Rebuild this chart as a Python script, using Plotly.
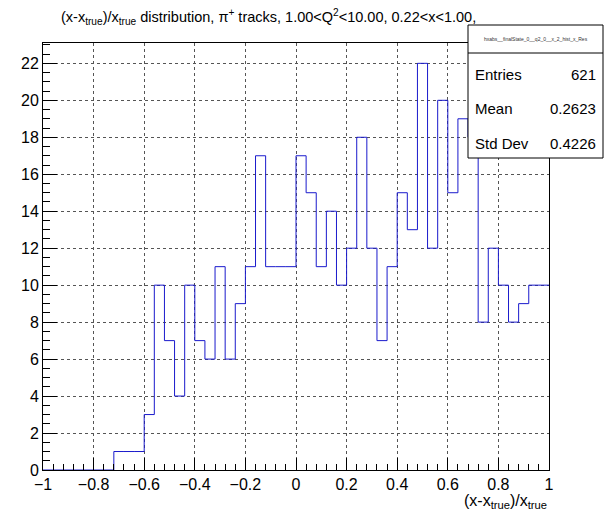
import plotly.graph_objects as go

bin_low_edges = [round(-1 + 0.04 * i, 2) for i in range(50)]
counts = [0, 0, 0, 0, 0, 0, 0, 1, 1, 1,
          3, 10, 7, 4, 10, 7, 6, 11, 6, 9,
          11, 17, 11, 11, 11, 17, 15, 11, 14, 10,
          12, 18, 12, 7, 11, 15, 13, 22, 12, 20,
          15, 19, 18, 8, 12, 10, 8, 9, 10, 10]
x_max = 1.0
stats_labels = ["Entries", "Mean", "Std Dev"]
stats_values = ["621", "0.2623", "0.4226"]
hist_name = "hxabs__finalState_0__q2_0__x_2_hist_x_Res"
title_text = ("(x-x<sub>true</sub>)/x<sub>true</sub> distribution, \u03c0<sup>+</sup> tracks, "
              "1.00&lt;Q<sup>2</sup>&lt;10.00, 0.22&lt;x&lt;1.00,")
xaxis_title = "(x-x<sub>true</sub>)/x<sub>true</sub>"

xs = bin_low_edges + [x_max]
ys = counts + [counts[-1]]

FONT = "Liberation Sans, Arial, Helvetica, sans-serif"

fig = go.Figure()
fig.add_trace(go.Scatter(x=xs, y=ys, mode="lines", line=dict(color="#1a1acc", width=1, shape="hv"),
                         showlegend=False, hoverinfo="skip"))

# page body has an 8px default margin; work in reference pixel coords and shift
OFF = 8
W, H = 615 - OFF, 524 - OFF
L, R, T, B = 43 - OFF, 549 - OFF, 43 - OFF, 470 - OFF

fig.update_layout(
    width=W, height=H,
    margin=dict(l=L, r=W - R, t=T, b=H - B, autoexpand=False),
    plot_bgcolor="white", paper_bgcolor="white",
    font=dict(family=FONT, color="black"),
    showlegend=False,
)
fig.update_xaxes(
    range=[-1, 1], dtick=0.2, tick0=-1, ticks="inside", ticklen=12, tickwidth=1, tickcolor="black",
    showline=True, linecolor="black", linewidth=1, mirror=True,
    showgrid=True, gridcolor="#555555", griddash="dot", gridwidth=1, zeroline=False,
    tickfont=dict(size=16), tickformat="~g",
    minor=dict(dtick=0.04, tick0=-1, ticks="inside", ticklen=6, tickcolor="black", showgrid=False),
)
fig.update_yaxes(
    range=[0, 23.1], dtick=2, tick0=0, ticks="inside", ticklen=14, tickwidth=1, tickcolor="black",
    showline=True, linecolor="black", linewidth=1, mirror=True,
    showgrid=True, gridcolor="#555555", griddash="dot", gridwidth=1, zeroline=False,
    tickfont=dict(size=16),
    minor=dict(dtick=0.5, tick0=0, ticks="inside", ticklen=7, tickcolor="black", showgrid=False),
)

def px_x(p):
    return (p - OFF - L) / (R - L)

def px_y(p):
    return (B - (p - OFF)) / (B - T)

# title
fig.add_annotation(text=title_text, xref="paper", yref="paper", x=px_x(59), y=px_y(17),
                   xanchor="left", yanchor="middle", showarrow=False, font=dict(size=14.5))
# x-axis title
fig.add_annotation(text=xaxis_title, xref="paper", yref="paper", x=1.0, y=px_y(501),
                   xanchor="right", yanchor="middle", showarrow=False, font=dict(size=16))

# stats box
bx0, bx1, by0, by1, bdiv = 468, 603, 25, 158, 53
fig.add_shape(type="rect", xref="paper", yref="paper", x0=px_x(bx0), x1=px_x(bx1), y0=px_y(by1), y1=px_y(by0),
              line=dict(color="black", width=1), fillcolor="white", layer="above")
fig.add_shape(type="line", xref="paper", yref="paper", x0=px_x(bx0), x1=px_x(bx1), y0=px_y(bdiv), y1=px_y(bdiv),
              line=dict(color="black", width=1), layer="above")
fig.add_annotation(text=hist_name, xref="paper", yref="paper", x=px_x((bx0 + bx1) / 2), y=px_y(39),
                   xanchor="center", yanchor="middle", showarrow=False, font=dict(size=5, color="#333333"))
row_y = [75, 109, 143]
for lab, val, yy in zip(stats_labels, stats_values, row_y):
    fig.add_annotation(text=lab, xref="paper", yref="paper", x=px_x(473), y=px_y(yy),
                       xanchor="left", yanchor="middle", showarrow=False, font=dict(size=15))
    fig.add_annotation(text=val, xref="paper", yref="paper", x=px_x(598), y=px_y(yy),
                       xanchor="right", yanchor="middle", showarrow=False, font=dict(size=15))

fig.write_html("out.html")
